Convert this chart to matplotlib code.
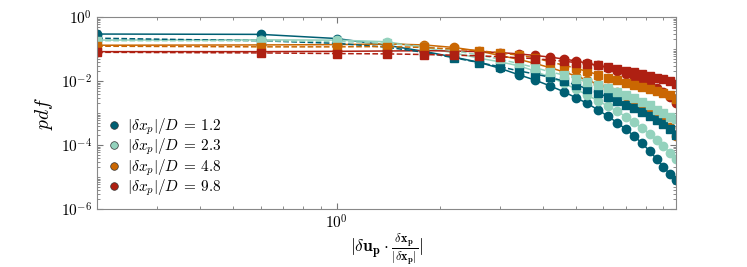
import matplotlib
matplotlib.use('Agg')
import matplotlib.pyplot as plt
import numpy as np
from matplotlib.ticker import FixedLocator, LogLocator, FuncFormatter, NullFormatter

plt.rcParams['mathtext.fontset'] = 'cm'
plt.rcParams['font.family'] = 'serif'
plt.rcParams['font.serif'] = ['DejaVu Serif']

# bin centres of |du_p . dx_p/|dx_p||
x = [0.2, 0.6, 1.0, 1.4, 1.8, 2.2, 2.6, 3.0, 3.4, 3.8, 4.2, 4.6, 5.0,
     5.4, 5.8, 6.2, 6.6, 7.0, 7.4, 7.8, 8.2, 8.6, 9.0, 9.4, 9.8]

labels = ['1.2', '2.3', '4.8', '9.8']
colors = ['#005f73', '#94d2bd', '#ca6702', '#ae2012']

# log10(pdf), circles (solid lines)
circ_12 = [-0.53, -0.54, -0.67, -0.88, -1.07, -1.25, -1.41, -1.60, -1.80, -1.97, -2.15, -2.33, -2.52,
           -2.70, -2.90, -3.10, -3.30, -3.51, -3.72, -3.95, -4.18, -4.44, -4.68, -4.91, -5.09]
circ_23 = [-0.72, -0.71, -0.72, -0.77, -0.95, -1.12, -1.28, -1.40, -1.52, -1.69, -1.88, -2.06, -2.25,
           -2.44, -2.62, -2.78, -2.95, -3.11, -3.28, -3.47, -3.65, -3.85, -4.03, -4.24, -4.45]
circ_48 = [-0.88, -0.87, -0.86, -0.84, -0.87, -0.95, -1.06, -1.20, -1.32, -1.45, -1.58, -1.71, -1.84,
           -1.97, -2.10, -2.22, -2.35, -2.48, -2.62, -2.76, -2.90, -3.06, -3.22, -3.43, -3.72]
circ_98 = [-1.08, -1.08, -1.07, -1.06, -1.05, -1.06, -1.08, -1.11, -1.15, -1.20, -1.25, -1.31, -1.37,
           -1.44, -1.51, -1.59, -1.68, -1.77, -1.87, -1.98, -2.09, -2.21, -2.35, -2.50, -2.69]

# log10(pdf), squares (dashed lines)
sq_12 = [-0.66, -0.74, -0.82, -0.94, -1.10, -1.27, -1.42, -1.55, -1.68, -1.78, -1.88, -2.00, -2.12,
         -2.24, -2.38, -2.50, -2.62, -2.74, -2.85, -2.96, -3.09, -3.22, -3.35, -3.51, -3.69]
sq_23 = [-0.74, -0.74, -0.76, -0.82, -0.92, -1.05, -1.18, -1.32, -1.45, -1.58, -1.71, -1.81, -1.92,
         -2.02, -2.13, -2.23, -2.33, -2.44, -2.54, -2.65, -2.75, -2.90, -3.01, -3.11, -3.20]
sq_48 = [-0.91, -0.93, -0.93, -0.92, -0.95, -1.00, -1.05, -1.12, -1.19, -1.27, -1.40, -1.50, -1.60,
         -1.70, -1.80, -1.89, -1.98, -2.05, -2.12, -2.18, -2.24, -2.30, -2.37, -2.45, -2.56]
sq_98 = [-1.10, -1.12, -1.14, -1.15, -1.17, -1.19, -1.21, -1.24, -1.27, -1.30, -1.34, -1.38, -1.42,
         -1.46, -1.51, -1.56, -1.62, -1.67, -1.73, -1.79, -1.84, -1.89, -1.95, -2.01, -2.08]

circles = [circ_12, circ_23, circ_48, circ_98]
squares = [sq_12, sq_23, sq_48, sq_98]

fig = plt.figure(figsize=(7.47, 2.67), dpi=100)
ax = fig.add_axes([0.130, 0.217, 0.775, 0.719])

for c, lab, col in zip(circles, labels, colors):
    ax.plot(x, 10 ** np.array(c), '-o', color=col, lw=1.1, ms=6,
            mec=col, label=r'$|\delta x_p|/D\:=\:%s$' % lab)
for s, col in zip(squares, colors):
    ax.plot(x, 10 ** np.array(s), '--s', color=col, lw=1.1, ms=5.5, mec=col)

ax.set_xscale('log')
ax.set_yscale('log')
ax.set_xlim(0.2, 9.8)
ax.set_ylim(1e-6, 1)

ax.yaxis.set_major_locator(FixedLocator([1e-6, 1e-4, 1e-2, 1]))
ax.yaxis.set_minor_locator(LogLocator(base=10, subs=np.arange(1, 10), numticks=50))
ax.yaxis.set_minor_formatter(NullFormatter())
ax.yaxis.set_major_formatter(FuncFormatter(lambda v, p: r'$10^{%d}$' % round(np.log10(v))))
ax.xaxis.set_major_formatter(FuncFormatter(lambda v, p: r'$10^{%d}$' % round(np.log10(v))))
ax.xaxis.set_minor_formatter(NullFormatter())

ax.tick_params(which='both', direction='in', top=True, right=True, color='#777777', labelsize=11)
ax.tick_params(which='major', length=4)
ax.tick_params(which='minor', length=2)
for sp in ax.spines.values():
    sp.set_color('#888888')
    sp.set_linewidth(0.8)

ax.set_ylabel(r'$pdf$', fontsize=14)
ax.set_xlabel(r'$|\delta \mathbf{u_p} \cdot \frac{\delta \mathbf{x_p}}{|\delta \mathbf{x_p}|}|$',
              fontsize=12.5, labelpad=0)

leg = ax.legend(loc='lower left', frameon=False, fontsize=11, handlelength=0.8,
                handletextpad=0.45, labelspacing=0.0, borderaxespad=0.3,
                bbox_to_anchor=(0.0, 0.0))
for h in leg.legend_handles:
    h.set_linestyle('')
    h.set_markersize(5.5)
    h.set_markeredgecolor('#333333')
    h.set_markeredgewidth(0.5)

fig.savefig('out.png', dpi=100)
